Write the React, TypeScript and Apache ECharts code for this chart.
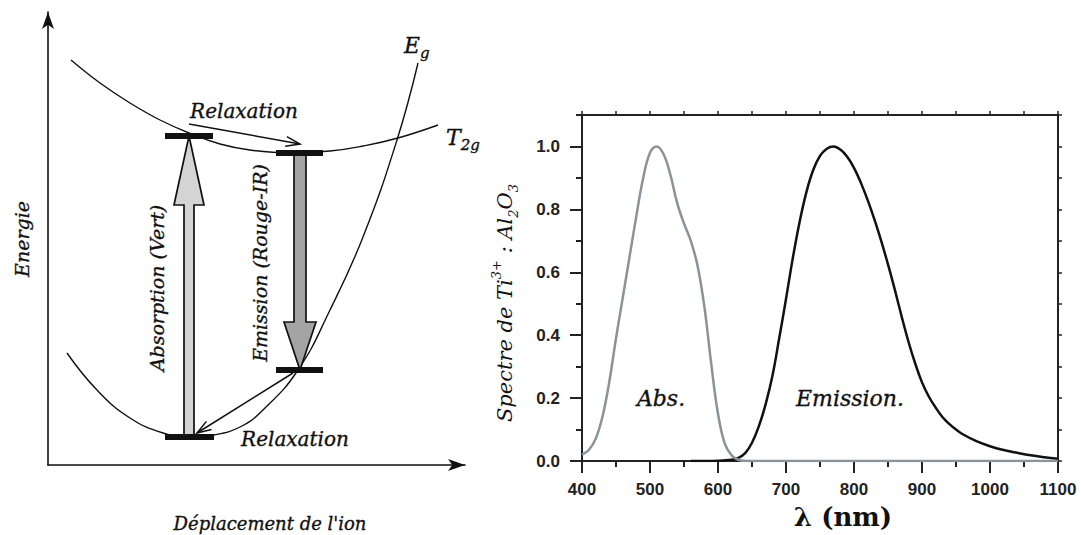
import React, { useEffect, useRef } from "react";
import * as echarts from "echarts";

// ---------- Left panel (schematic configuration-coordinate diagram) ----------
// Schematic units: x = displacement, y = energy (arbitrary units)
const EG_X = [19, 49, 82, 115, 142, 166, 192, 215, 250, 282, 315, 349, 370];
const EG_Y = [112, 75, 47, 32, 28, 30, 38, 55, 95, 155, 228, 325, 402];
const T2G_X = [23, 52, 82, 112, 141, 172, 202, 242, 282, 315, 350, 390];
const T2G_Y = [405, 382, 362, 345, 332, 321, 315, 312, 314, 319, 327, 340];
// energy levels: [xStart, xEnd, energy]
const LEVELS = [
  [117, 166, 28],
  [117, 165, 329],
  [228, 275, 312],
  [228, 275, 95],
];
// transitions: [x, energyFrom, energyTo]
const TRANSITIONS = [
  [141, 28, 329],
  [252, 312, 95],
];
// relaxations: [x1, y1, x2, y2]
const RELAXATIONS = [
  [141, 341, 252, 321],
  [245, 92, 149, 32],
];

// ---------- Right panel (Ti3+:Al2O3 spectra) ----------
const ABS_WL = [400, 410, 420, 430, 440, 450, 460, 470, 480, 490, 500, 510, 520, 530, 540, 550, 560, 570, 580, 590, 600, 610, 620, 630, 640, 700, 800, 900, 1000, 1100];
const ABS_VAL = [0.02, 0.035, 0.07, 0.14, 0.25, 0.39, 0.52, 0.65, 0.78, 0.9, 0.98, 1.0, 0.975, 0.91, 0.82, 0.755, 0.7, 0.62, 0.49, 0.31, 0.15, 0.055, 0.018, 0.004, 0, 0, 0, 0, 0, 0];
const EM_WL = [560, 600, 620, 630, 640, 650, 660, 670, 680, 690, 700, 710, 720, 730, 740, 750, 760, 770, 780, 790, 800, 810, 820, 830, 840, 850, 860, 870, 880, 890, 900, 910, 920, 930, 940, 950, 960, 980, 1000, 1020, 1040, 1060, 1080, 1100];
const EM_VAL = [0, 0.001, 0.004, 0.01, 0.025, 0.058, 0.11, 0.18, 0.27, 0.39, 0.515, 0.645, 0.76, 0.855, 0.925, 0.97, 0.993, 1.0, 0.99, 0.967, 0.932, 0.885, 0.83, 0.768, 0.7, 0.625, 0.545, 0.46, 0.38, 0.31, 0.25, 0.205, 0.17, 0.14, 0.118, 0.1, 0.085, 0.063, 0.047, 0.035, 0.026, 0.018, 0.012, 0.007];
const X_TICKS = [400, 1100, 100];
const Y_TICKS = [0, 1.1, 0.2];

const zip = (a: number[], b: number[]) => a.map((v, i) => [v, b[i]]);

export default function App() {
  const ref = useRef<HTMLDivElement>(null);

  useEffect(() => {
    const chart = echarts.init(ref.current!, null, { renderer: "svg" });
    const serif = "'DejaVu Serif', serif";
    const sans = "'Liberation Sans', Arial, sans-serif";
    const ink = "#111";
    const frame = "#222";
    const arrowFills = ["#d4d4d4", "#a3a3a3"];
    const arrowDims = [
      [5, 15, 69],
      [6, 16, 48],
    ];

    const txt = (x: number, y: number, text: string, size: number, rot = 0, extra: any = {}) => ({
      type: "text",
      x,
      y,
      rotation: rot,
      z: 10,
      style: {
        text,
        fill: ink,
        fontFamily: serif,
        fontStyle: "italic",
        fontSize: size,
        align: "center",
        verticalAlign: "middle",
        textAlign: "center",
        textVerticalAlign: "middle",
        stroke: ink,
        lineWidth: 0.35,
        ...extra,
      },
    });

    const richLabel = (x: number, y: number, main: string, sub: string) => ({
      type: "text",
      x,
      y,
      z: 10,
      style: {
        text: `{a|${main}}{b|${sub}}`,
        fill: ink,
        align: "left",
        verticalAlign: "middle",
        textAlign: "left",
        textVerticalAlign: "middle",
        rich: {
          a: { fontFamily: serif, fontStyle: "italic", fontSize: 22, lineHeight: 30, fill: ink, stroke: ink, lineWidth: 0.35 },
          b: { fontFamily: serif, fontStyle: "italic", fontSize: 15, verticalAlign: "bottom", fill: ink, stroke: ink, lineWidth: 0.35 },
        },
      },
    });

    const tickLabel = { fontFamily: sans, fontWeight: "bold", fontSize: 17, color: frame };

    const option: any = {
      animation: false,
      backgroundColor: "#fff",
      grid: [
        { left: 48, top: 12, width: 417, height: 453 },
        { left: 582, top: 115, width: 476, height: 349 },
      ],
      xAxis: [
        {
          gridIndex: 0,
          type: "value",
          min: 0,
          max: 417,
          axisLine: { show: true, onZero: false, symbol: ["none", "arrow"], symbolSize: [9, 17], lineStyle: { color: ink, width: 1.6 } },
          axisTick: { show: false },
          axisLabel: { show: false },
          splitLine: { show: false },
        },
        {
          gridIndex: 1,
          type: "value",
          position: "bottom",
          min: X_TICKS[0],
          max: X_TICKS[1],
          interval: X_TICKS[2],
          axisLine: { show: true, onZero: false, lineStyle: { color: frame, width: 2 } },
          axisTick: { show: true, length: 12, lineStyle: { color: frame, width: 2 } },
          minorTick: { show: true, splitNumber: 2, length: 6, lineStyle: { color: frame, width: 2 } },
          axisLabel: { margin: 20, formatter: (v: number) => String(v), ...tickLabel },
          splitLine: { show: false },
          name: "λ (nm)",
          nameLocation: "middle",
          nameGap: 43,
          nameTextStyle: { fontFamily: serif, fontWeight: "bold", fontSize: 26, color: "#111", padding: [0, 0, 0, 46] },
        },
        {
          gridIndex: 1,
          type: "value",
          position: "top",
          min: X_TICKS[0],
          max: X_TICKS[1],
          interval: X_TICKS[2] / 2,
          axisLine: { show: true, onZero: false, lineStyle: { color: frame, width: 2 } },
          axisTick: { show: true, length: 4, lineStyle: { color: frame, width: 1.5 } },
          axisLabel: { show: false },
          splitLine: { show: false },
        },
      ],
      yAxis: [
        {
          gridIndex: 0,
          type: "value",
          min: 0,
          max: 453,
          axisLine: { show: true, onZero: false, symbol: ["none", "arrow"], symbolSize: [9, 17], lineStyle: { color: ink, width: 1.6 } },
          axisTick: { show: false },
          axisLabel: { show: false },
          splitLine: { show: false },
        },
        {
          gridIndex: 1,
          type: "value",
          position: "left",
          min: Y_TICKS[0],
          max: Y_TICKS[1],
          interval: Y_TICKS[2],
          axisLine: { show: true, onZero: false, lineStyle: { color: frame, width: 2 } },
          axisTick: { show: true, length: 12, lineStyle: { color: frame, width: 2 } },
          axisLabel: {
            margin: 22,
            showMaxLabel: false,
            formatter: (v: number) => (v > 1.05 ? "" : v.toFixed(1)),
            ...tickLabel,
          },
          splitLine: { show: false },
          name: "{t|Spectre de Ti}{sup|3+}{t| : Al}{sub|2}{t|O}{sub|3}",
          nameLocation: "middle",
          nameRotate: 90,
          nameGap: 62,
          nameTextStyle: {
            padding: [0, 30, 0, 0],
            rich: {
              t: { fontFamily: serif, fontStyle: "italic", fontSize: 21, lineHeight: 30, color: "#111" },
              sup: { fontFamily: serif, fontStyle: "italic", fontSize: 13, verticalAlign: "top", color: "#111" },
              sub: { fontFamily: serif, fontStyle: "italic", fontSize: 13, verticalAlign: "bottom", color: "#111" },
            },
          },
        },
        {
          gridIndex: 1,
          type: "value",
          position: "left",
          min: Y_TICKS[0],
          max: Y_TICKS[1],
          interval: Y_TICKS[2] / 2,
          axisLine: { show: false },
          axisTick: { show: true, length: 6, lineStyle: { color: frame, width: 2 } },
          axisLabel: { show: false },
          splitLine: { show: false },
        },
        {
          gridIndex: 1,
          type: "value",
          position: "right",
          min: Y_TICKS[0],
          max: Y_TICKS[1],
          interval: Y_TICKS[2] / 2,
          axisLine: { show: true, onZero: false, lineStyle: { color: frame, width: 2 } },
          axisTick: { show: true, length: 4, lineStyle: { color: frame, width: 1.5 } },
          axisLabel: { show: false },
          splitLine: { show: false },
        },
      ],
      series: [
        {
          name: "Eg",
          type: "line",
          xAxisIndex: 0,
          yAxisIndex: 0,
          data: zip(EG_X, EG_Y),
          smooth: 0.45,
          symbol: "none",
          lineStyle: { color: ink, width: 1.4 },
          z: 3,
        },
        {
          name: "T2g",
          type: "line",
          xAxisIndex: 0,
          yAxisIndex: 0,
          data: zip(T2G_X, T2G_Y),
          smooth: 0.45,
          symbol: "none",
          lineStyle: { color: ink, width: 1.4 },
          z: 3,
        },
        {
          name: "transitions",
          type: "custom",
          coordinateSystem: "cartesian2d",
          xAxisIndex: 0,
          yAxisIndex: 0,
          encode: { x: 0, y: [1, 2] },
          data: TRANSITIONS,
          z: 4,
          renderItem: (params: any, api: any) => {
            const x = api.value(0);
            const s = api.coord([x, api.value(1)]);
            const e = api.coord([x, api.value(2)]);
            const [w, hw, hl] = arrowDims[params.dataIndex];
            const dir = e[1] > s[1] ? 1 : -1;
            const cx = s[0];
            const by = e[1] - dir * hl;
            return {
              type: "polygon",
              shape: {
                points: [
                  [cx - w, s[1]],
                  [cx - w, by],
                  [cx - hw, by],
                  [cx, e[1]],
                  [cx + hw, by],
                  [cx + w, by],
                  [cx + w, s[1]],
                ],
              },
              style: { fill: arrowFills[params.dataIndex], stroke: ink, lineWidth: 1.7, lineJoin: "miter" },
            };
          },
        },
        {
          name: "levels",
          type: "custom",
          coordinateSystem: "cartesian2d",
          xAxisIndex: 0,
          yAxisIndex: 0,
          encode: { x: [0, 1], y: 2 },
          data: LEVELS,
          z: 5,
          renderItem: (params: any, api: any) => {
            const a = api.coord([api.value(0), api.value(2)]);
            const b = api.coord([api.value(1), api.value(2)]);
            return {
              type: "line",
              shape: { x1: a[0], y1: a[1], x2: b[0], y2: b[1] },
              style: { stroke: ink, lineWidth: 6 },
            };
          },
        },
        {
          name: "relaxations",
          type: "custom",
          coordinateSystem: "cartesian2d",
          xAxisIndex: 0,
          yAxisIndex: 0,
          encode: { x: [0, 2], y: [1, 3] },
          data: RELAXATIONS,
          z: 6,
          renderItem: (params: any, api: any) => {
            const p = api.coord([api.value(0), api.value(1)]);
            const q = api.coord([api.value(2), api.value(3)]);
            const ang = Math.atan2(q[1] - p[1], q[0] - p[0]);
            const L = 15;
            const a = 0.33;
            const w1 = [q[0] - L * Math.cos(ang - a), q[1] - L * Math.sin(ang - a)];
            const w2 = [q[0] - L * Math.cos(ang + a), q[1] - L * Math.sin(ang + a)];
            return {
              type: "group",
              children: [
                { type: "line", shape: { x1: p[0], y1: p[1], x2: q[0], y2: q[1] }, style: { stroke: ink, lineWidth: 1.5 } },
                { type: "polyline", shape: { points: [w1, q, w2] }, style: { stroke: ink, lineWidth: 1.5, fill: "none" } },
              ],
            };
          },
        },
        {
          name: "Emission",
          type: "line",
          xAxisIndex: 1,
          yAxisIndex: 1,
          data: zip(EM_WL, EM_VAL),
          smooth: 0.4,
          symbol: "none",
          lineStyle: { color: "#111", width: 2.5 },
          z: 3,
        },
        {
          name: "Abs",
          type: "line",
          xAxisIndex: 1,
          yAxisIndex: 1,
          data: zip(ABS_WL, ABS_VAL),
          smooth: 0.4,
          symbol: "none",
          lineStyle: { color: "#8a9399", width: 2.5 },
          z: 4,
        },
      ],
      graphic: [
        txt(22, 239, "Energie", 19, Math.PI / 2),
        txt(270, 523, "Déplacement de l'ion", 18),
        txt(244, 111, "Relaxation", 20),
        txt(295, 439, "Relaxation", 20),
        txt(157, 288, "Absorption (Vert)", 19, Math.PI / 2),
        txt(260, 263, "Emission (Rouge-IR)", 19, Math.PI / 2),
        richLabel(404, 45, "E", "g"),
        richLabel(446, 137, "T", "2g"),
        txt(661, 398, "Abs.", 22),
        txt(850, 398, "Emission.", 22),
      ],
    };

    chart.setOption(option);
    return () => chart.dispose();
  }, []);

  return (
    <div
      ref={ref}
      style={{ position: "fixed", left: 0, top: 0, width: 1081, height: 535, background: "#fff" }}
    />
  );
}
